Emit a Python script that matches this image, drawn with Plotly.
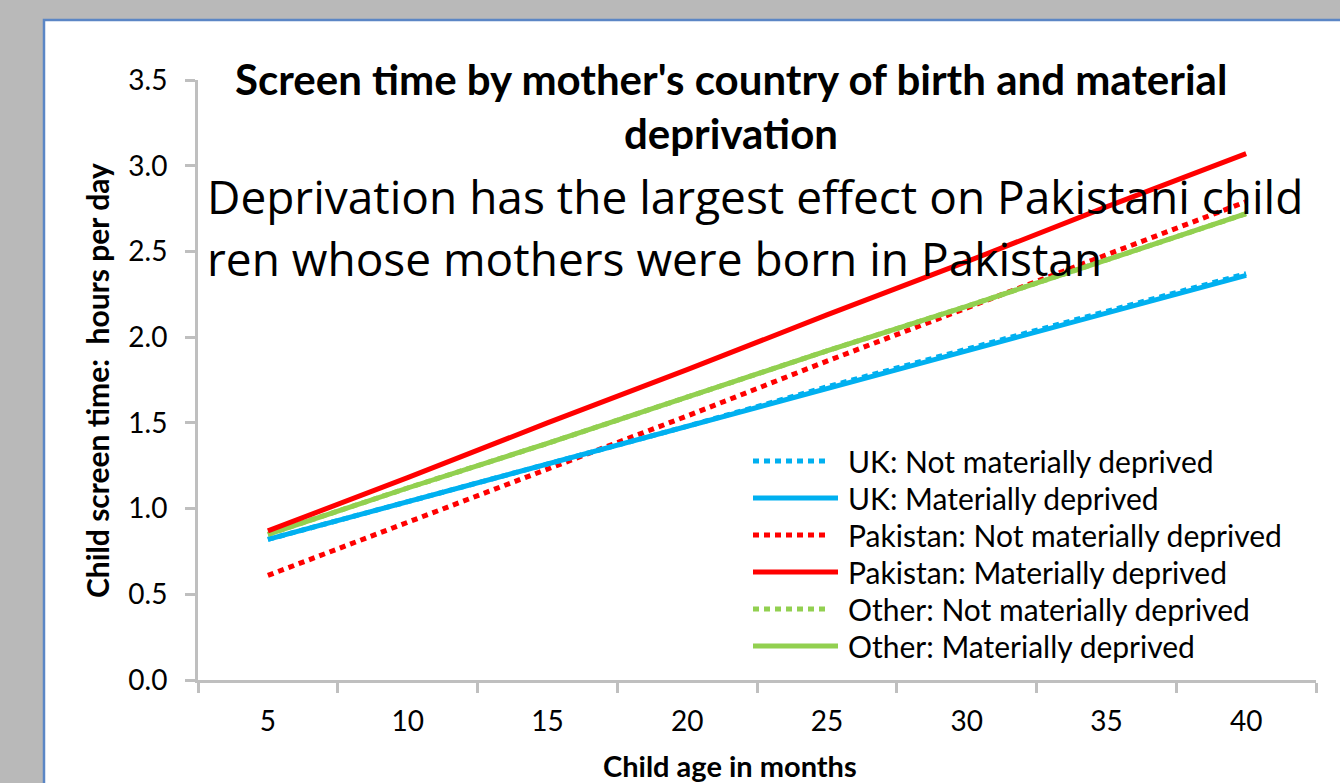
import plotly.graph_objects as go

# ---------------- data ----------------
ages = ["5", "10", "15", "20", "25", "30", "35", "40"]

uk_not_deprived = [0.82, 1.04, 1.26, 1.48, 1.71, 1.93, 2.15, 2.37]
uk_deprived = [0.82, 1.04, 1.26, 1.48, 1.70, 1.92, 2.14, 2.36]
pak_not_deprived = [0.61, 0.92, 1.23, 1.54, 1.86, 2.17, 2.48, 2.79]
pak_deprived = [0.87, 1.18, 1.50, 1.81, 2.13, 2.44, 2.76, 3.07]
oth_not_deprived = [0.85, 1.12, 1.38, 1.65, 1.92, 2.18, 2.45, 2.72]
oth_deprived = [0.85, 1.12, 1.38, 1.65, 1.92, 2.18, 2.45, 2.72]

series_names = [
    "UK: Not materially deprived",
    "UK: Materially deprived",
    "Pakistan: Not materially deprived",
    "Pakistan: Materially deprived",
    "Other: Not materially deprived",
    "Other: Materially deprived",
]
series_values = [uk_not_deprived, uk_deprived, pak_not_deprived,
                 pak_deprived, oth_not_deprived, oth_deprived]
series_colors = ["#00b0f0", "#00b0f0", "#ff0000", "#ff0000", "#92d050", "#92d050"]
series_dashed = [True, False, True, False, True, False]

y_ticks = [0.0, 0.5, 1.0, 1.5, 2.0, 2.5, 3.0, 3.5]

title_lines = ["Screen time by mother's country of birth and material", "deprivation"]
note_lines = ["Deprivation has the largest effect on Pakistani child",
              "ren whose mothers were born in Pakistan"]
x_title = "Child age in months"
y_title = "Child screen time:  hours per day"

# ---------------- layout geometry (pixels) ----------------
W, H = 1340, 783
L, R, T, B = 198, 1316, 80, 680
PW, PH = R - L, B - T


def px(xp):
    return (xp - L) / PW


def py(yp):
    return (B - yp) / PH


FONT = "Lato"
NOTE_FONT = "Open Sans"
DOT = "6px,5px"

fig = go.Figure()

# draw order: dotted under solid so the overlapping pairs look like the original
order = [2, 0, 4, 1, 5, 3]
for i in order:
    fig.add_trace(go.Scatter(
        x=ages, y=series_values[i], mode="lines", name=series_names[i],
        line=dict(color=series_colors[i], width=5,
                  dash=DOT if series_dashed[i] else "solid"),
        showlegend=False, hoverinfo="skip",
    ))

shapes = []
annotations = []

# white chart panel with blue border
shapes.append(dict(type="rect", xref="paper", yref="paper", layer="below",
                   x0=px(44), x1=px(1360), y0=py(800), y1=py(20),
                   fillcolor="white", line=dict(color="#5b86c5", width=2.5)))

# title
for k, t in enumerate(title_lines):
    annotations.append(dict(text=f"<b>{t}</b>", xref="paper", yref="paper",
                            x=px(731), y=py([79, 133][k]), xanchor="center", yanchor="middle",
                            showarrow=False, font=dict(family=FONT, size=42, color="#000000")))

# note
for k, t in enumerate(note_lines):
    annotations.append(dict(text=t, xref="paper", yref="paper",
                            x=px(205), y=py([196, 258][k]), xanchor="left", yanchor="middle",
                            showarrow=False, font=dict(family=NOTE_FONT, size=46, color="#000000")))

# manual legend
leg_y = [461, 498, 535, 572, 609, 646]
for k in range(len(series_names)):
    yk = py(leg_y[k])
    shapes.append(dict(type="line", xref="paper", yref="paper",
                       x0=px(753), x1=px(838 if not series_dashed[k] else 830), y0=yk, y1=yk,
                       line=dict(color=series_colors[k], width=5,
                                 dash=DOT if series_dashed[k] else "solid")))
    annotations.append(dict(text=series_names[k], xref="paper", yref="paper",
                            x=px(846), y=yk, xanchor="left", yanchor="middle",
                            showarrow=False, font=dict(family=FONT, size=30, color="#000000")))

# axis titles
annotations.append(dict(text=f"<b>{x_title}</b>", xref="paper", yref="paper",
                        x=px(730), y=py(765), xanchor="center", yanchor="middle",
                        showarrow=False, font=dict(family=FONT, size=29, color="#000000")))
annotations.append(dict(text=f"<b>{y_title}</b>", xref="paper", yref="paper",
                        x=px(97), y=py(381), xanchor="center", yanchor="middle", textangle=-90,
                        showarrow=False, font=dict(family=FONT, size=30, color="#000000")))

fig.update_layout(
    width=W, height=H,
    margin=dict(l=L, r=W - R, t=T, b=H - B),
    paper_bgcolor="#b9b9b9",
    plot_bgcolor="rgba(0,0,0,0)",
    shapes=shapes,
    annotations=annotations,
    showlegend=False,
)
fig.update_xaxes(
    type="category", categoryorder="array", categoryarray=ages,
    range=[-0.5, 7.5], showgrid=False, zeroline=False,
    showline=True, linecolor="#bfbfbf", linewidth=3,
    ticks="outside", tickson="boundaries", ticklen=10, tickwidth=3, tickcolor="#bfbfbf",
    ticklabelstandoff=14,
    tickfont=dict(family=FONT, size=28, color="#000000"),
)
fig.update_yaxes(
    range=[0, 3.5], tickvals=y_ticks, tickformat=".1f",
    showgrid=False, zeroline=False,
    showline=True, linecolor="#bfbfbf", linewidth=3,
    ticks="outside", ticklen=10, tickwidth=3, tickcolor="#bfbfbf",
    ticklabelstandoff=12,
    tickfont=dict(family=FONT, size=28, color="#000000"),
)

fig.write_html("out.html", config={"displayModeBar": False},
               post_script="document.body.style.margin='0';")
